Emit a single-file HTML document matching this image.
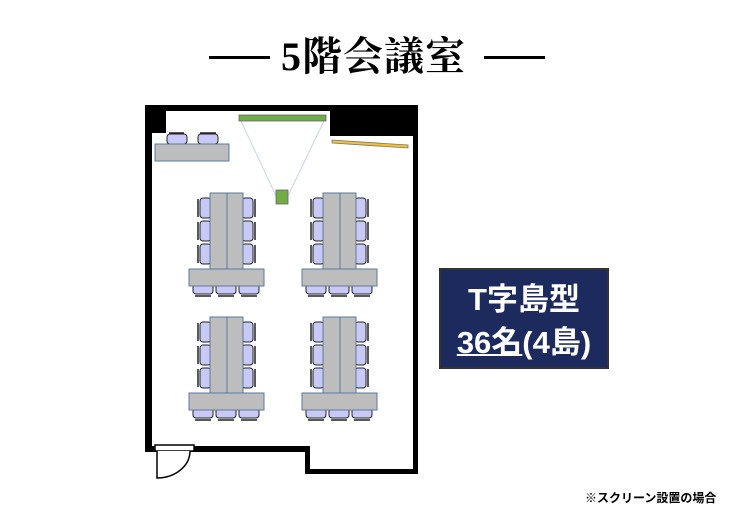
<!DOCTYPE html>
<html><head><meta charset="utf-8"><style>
body{margin:0;width:756px;height:525px;background:#fff;overflow:hidden;position:relative}
.t{position:absolute;font-family:"Liberation Serif","Noto Serif CJK SC",serif;font-weight:bold;font-size:40px;left:281px;top:34px;line-height:46px;letter-spacing:1px;white-space:nowrap}
.ln{position:absolute;height:3px;background:#000;top:56px;width:61px}
.box{position:absolute;left:439px;top:268px;background:#1c2a5e;border:2px solid #333;color:#fff;font-family:"Liberation Sans","Noto Sans CJK JP",sans-serif;font-weight:bold;text-align:center;font-size:31px;line-height:43px;padding-top:8px;box-sizing:border-box;height:101px;width:170px;white-space:nowrap}
.note{position:absolute;left:585px;top:489px;font-family:"Liberation Sans","Noto Sans CJK JP",sans-serif;font-weight:bold;font-size:12px}
</style></head><body>
<div class="ln" style="left:209px"></div><div class="ln" style="left:484px"></div>
<div class="t">5階会議室</div>
<svg width="756" height="525" style="position:absolute;left:0;top:0">
<defs>
<g id="cv"><rect x="0" y="0" width="11" height="20" rx="3" fill="#c9c9f7" stroke="#222" stroke-width="1"/></g>
<g id="ch"><rect x="0" y="0" width="20" height="10" rx="3" fill="#c9c9f7" stroke="#222" stroke-width="1"/></g>
<g id="isl">
<use href="#cv" x="11" y="5"/><use href="#cv" x="11" y="28"/><use href="#cv" x="11" y="51"/>
<line x1="9" y1="6" x2="9" y2="24" stroke="#222" stroke-width="1.5"/><line x1="9" y1="29" x2="9" y2="47" stroke="#222" stroke-width="1.5"/><line x1="9" y1="52" x2="9" y2="70" stroke="#222" stroke-width="1.5"/>
<use href="#cv" x="53" y="5"/><use href="#cv" x="53" y="28"/><use href="#cv" x="53" y="51"/>
<line x1="66" y1="6" x2="66" y2="24" stroke="#222" stroke-width="1.5"/><line x1="66" y1="29" x2="66" y2="47" stroke="#222" stroke-width="1.5"/><line x1="66" y1="52" x2="66" y2="70" stroke="#222" stroke-width="1.5"/>
<use href="#ch" x="4" y="91"/><use href="#ch" x="27" y="91"/><use href="#ch" x="50" y="91"/>
<line x1="6" y1="103" x2="22" y2="103" stroke="#222" stroke-width="1.5"/><line x1="29" y1="103" x2="45" y2="103" stroke="#222" stroke-width="1.5"/><line x1="52" y1="103" x2="68" y2="103" stroke="#222" stroke-width="1.5"/>
<rect x="21" y="0" width="17" height="76" fill="#bdbdbd" stroke="#5a7a9a"/>
<rect x="38" y="0" width="16" height="76" fill="#bdbdbd" stroke="#5a7a9a"/>
<rect x="0" y="76" width="75" height="17" fill="#bdbdbd" stroke="#5a7a9a"/>
</g>
</defs>
<polygon points="145,105 418,105 418,474 305,474 305,452 145,452" fill="#000"/>
<polygon points="152,133 166,133 166,111 330,111 330,136 413,136 413,469 310,469 310,446 152,446" fill="#fff"/>
<rect x="155" y="445" width="39" height="6" fill="#fff" stroke="#000" stroke-width="1.5"/>
<path d="M157,451 L157,478 A33,27 0 0 0 190,451" fill="#fff" stroke="#000" stroke-width="1.5"/>
<line x1="241" y1="121" x2="278" y2="200" stroke="#c5d5ea" stroke-width="1"/>
<line x1="324" y1="121" x2="286" y2="200" stroke="#c5d5ea" stroke-width="1"/>
<rect x="239" y="115" width="87" height="6" fill="#70ad47" stroke="#666" stroke-width="0.8"/>
<rect x="276" y="190" width="12" height="14" fill="#70ad47" stroke="#666" stroke-width="0.8"/>
<polygon points="332,140 408,145 408,148 332,143" fill="#f4c030" stroke="#777" stroke-width="0.8"/>
<use href="#ch" x="167" y="134"/><use href="#ch" x="198" y="134"/>
<line x1="169" y1="133" x2="184" y2="133" stroke="#222" stroke-width="1.5"/><line x1="200" y1="133" x2="216" y2="133" stroke="#222" stroke-width="1.5"/>
<rect x="155" y="144" width="74" height="17" fill="#bdbdbd" stroke="#5a7a9a"/>
<use href="#isl" x="189" y="193"/>
<use href="#isl" x="302" y="193"/>
<use href="#isl" x="189" y="317"/>
<use href="#isl" x="302" y="317"/>
</svg>
<div class="box">T字島型<br><span style="text-decoration:underline;text-decoration-thickness:2px">36名</span>(4島)</div>
<div class="note">※スクリーン設置の場合</div>
</body></html>
